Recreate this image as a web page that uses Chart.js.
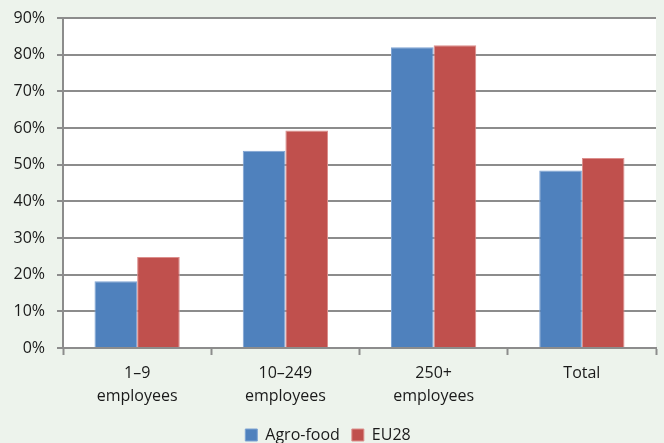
<!DOCTYPE html>
<html>
<head>
<meta charset="utf-8">
<script src="https://cdn.jsdelivr.net/npm/chart.js@4/dist/chart.umd.min.js"></script>
<style>
  html, body { margin: 0; padding: 0; background: #edf3ec; }
  #wrap { width: 664px; height: 443px; }
</style>
</head>
<body>
<div id="wrap"><canvas id="chart" width="664" height="443"></canvas></div>
<script>
(function () {
    "use strict";

    // Share of enterprises by size class
    var categories = [["1–9", "employees"], ["10–249", "employees"], ["250+", "employees"], "Total"];
    var agroFood = [18.2, 53.8, 82.0, 48.4];
    var eu28 = [24.8, 59.3, 82.6, 51.8];

    var gridColor = "#8c8c8c";
    var fontFamily = "'Open Sans', 'Noto Sans', sans-serif";

    // white plot area on the tinted page
    var plotBackground = {
        id: "plotBackground",
        beforeDraw: function (chart) {
            var a = chart.chartArea, c = chart.ctx;
            c.save();
            c.fillStyle = "#ffffff";
            c.fillRect(a.left, a.top, a.right - a.left, a.bottom - a.top);
            c.restore();
        }
    };

    var ctx = document.getElementById("chart").getContext("2d");
    new Chart(ctx, {
        type: "bar",
        data: {
            labels: categories,
            datasets: [
                {
                    label: "Agro-food",
                    data: agroFood,
                    backgroundColor: "#4f81bd",
                    borderColor: "#7ea3d3",
                    borderWidth: 1
                },
                {
                    label: "EU28",
                    data: eu28,
                    backgroundColor: "#c0504d",
                    borderColor: "#dc8e8c",
                    borderWidth: 1
                }
            ]
        },
        options: {
            responsive: false,
            animation: false,
            layout: { padding: { top: 18, right: 8, left: 0, bottom: -10 } },
            categoryPercentage: 0.575,
            barPercentage: 1,
            scales: {
                x: {
                    offset: true,
                    grid: {
                        offset: true,
                        drawOnChartArea: false,
                        drawTicks: true,
                        tickLength: 7,
                        tickWidth: 2,
                        tickColor: gridColor
                    },
                    border: { color: gridColor, width: 2 },
                    ticks: {
                        color: "#1a1a1a",
                        padding: 7,
                        font: { family: fontFamily, size: 16, lineHeight: 1.45 },
                        maxRotation: 0
                    },
                    afterFit: function (s) { s.height = 67; }
                },
                y: {
                    min: 0,
                    max: 90,
                    grid: {
                        color: gridColor,
                        lineWidth: 2,
                        tickLength: 6,
                        tickWidth: 2,
                        tickColor: gridColor
                    },
                    border: { color: gridColor, width: 2 },
                    ticks: {
                        stepSize: 10,
                        color: "#1a1a1a",
                        padding: 12,
                        font: { family: fontFamily, size: 16 },
                        callback: function (v) { return v + "%"; }
                    },
                    afterFit: function (s) {
                        s.width = 63;
                        s.paddingTop = 0;
                        s.paddingBottom = 0;
                    }
                }
            },
            plugins: {
                legend: {
                    position: "bottom",
                    labels: {
                        color: "#1a1a1a",
                        boxWidth: 12,
                        boxHeight: 12,
                        padding: 12,
                        font: { family: fontFamily, size: 16 }
                    }
                },
                tooltip: { enabled: false }
            }
        },
        plugins: [plotBackground]
    });
})();
</script>
</body>
</html>
